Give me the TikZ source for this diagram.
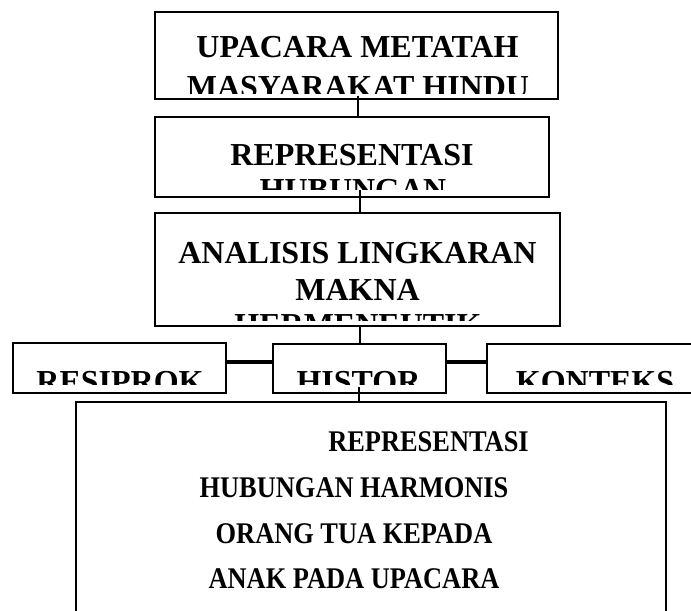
\documentclass[tikz,border=0pt]{standalone}
\usepackage{fontspec}
\setmainfont{Liberation Serif}
\newfontfamily\condfont[FakeStretch=0.88]{Liberation Serif}
\usetikzlibrary{fit}
\begin{document}
\begin{tikzpicture}[x=0.75pt,y=-0.75pt,
  box/.style={draw=black, line width=1.2pt, inner sep=0pt, rectangle},
  big/.style={font=\fontsize{24}{28}\selectfont\bfseries, inner sep=0pt, anchor=base},
  small/.style={font=\condfont\fontsize{22.5}{26}\selectfont\bfseries, inner sep=0pt, anchor=base},
  link/.style={draw=black, line width=1pt},
  hlink/.style={draw=black, line width=2.4pt}]
\useasboundingbox (0,0) rectangle (691,610);
\clip (0,0) rectangle (691,610);
\fill[white] (0,0) rectangle (691,610);

% boxes
\node[box, fit={(155,12) (558,99)}] (b1) {};
\node[box, fit={(155,117) (549,197)}] (b2) {};
\node[box, fit={(155,213) (560,326)}] (b3) {};
\node[box, fit={(13,343) (226,393)}] (res) {};
\node[box, fit={(273,344) (446,393)}] (his) {};
\node[box, fit={(487,344) (720,393)}] (kon) {};
\node[box, fit={(76,402) (666,640)}] (b5) {};

% texts (clipped as in the reference)
\begin{scope}
  \clip (156,13) rectangle (557,93);
  \node[big] (t1a) at (357.5,58) {UPACARA METATAH};
  \node[big] (t1b) at (358,97.5) {MASYARAKAT HINDU};
\end{scope}
\begin{scope}
  \clip (156,118) rectangle (548,189);
  \node[big] (t2a) at (352,165) {REPRESENTASI};
  \node[big] (t2b) at (353,200.5) {HUBUNGAN};
\end{scope}
\begin{scope}
  \clip (156,214) rectangle (559,320);
  \node[big] (t3a) at (357.5,263) {ANALISIS LINGKARAN};
  \node[big] (t3b) at (357.5,300) {MAKNA};
  \node[big] (t3c) at (358,335.5) {HERMENEUTIK};
\end{scope}
\begin{scope}
  \clip (14,344) rectangle (225,384);
  \node[big] (t4) at (120,392.5) {RESIPROK};
\end{scope}
\begin{scope}
  \clip (274,345) rectangle (445,384);
  \node[big] (t5) at (358.5,392.5) {HISTOR};
\end{scope}
\begin{scope}
  \clip (488,345) rectangle (691,384);
  \node[big] (t6) at (595,392.5) {KONTEKS};
\end{scope}
\node[small, anchor=base west] (t7a) at (328,451) {REPRESENTASI};
\node[small] (t7b) at (354,497) {HUBUNGAN HARMONIS};
\node[small] (t7c) at (354,543) {ORANG TUA KEPADA};
\node[small] (t7d) at (354,588) {ANAK PADA UPACARA};

% connectors
\coordinate (x1) at (358,0);
\coordinate (x2) at (360,0);
\coordinate (x3) at (359,0);
\coordinate (hy) at (0,362);
\draw[link] ([yshift=3pt]b1.south -| x1) -- (b2.north -| x1);
\draw[link] ([yshift=6pt]b2.south -| x2) -- (b3.north -| x2);
\draw[link] (b3.south -| x2) -- (his.north -| x2);
\draw[link] ([yshift=5pt]his.south -| x3) -- (b5.north -| x3);
\draw[hlink] (res.east |- hy) -- (his.west |- hy);
\draw[hlink] (his.east |- hy) -- (kon.west |- hy);
\end{tikzpicture}
\end{document}
